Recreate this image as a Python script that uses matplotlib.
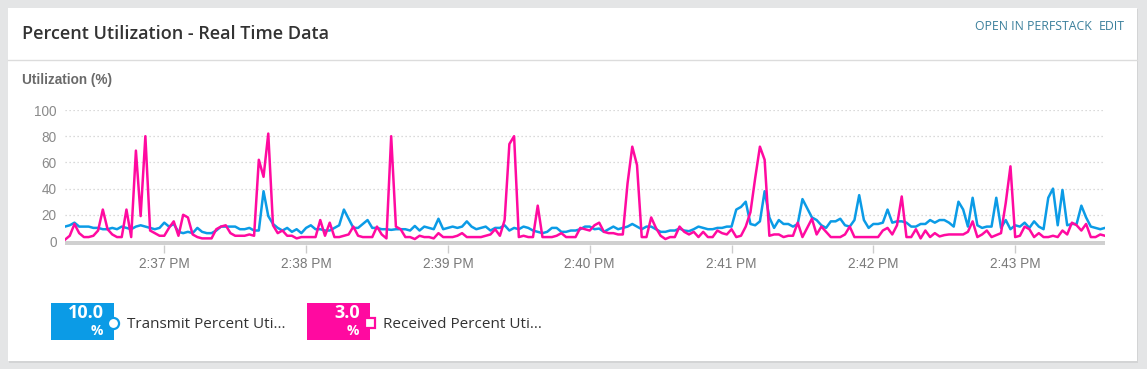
import matplotlib
matplotlib.use('Agg')
import matplotlib.pyplot as plt
import numpy as np
from matplotlib.patches import Rectangle
from matplotlib.lines import Line2D

# ---------------- data ----------------
start_time = '2024-01-01T14:36:18'
step_seconds = 2

transmit = [
    11, 12, 14, 11, 11, 11, 10, 10, 9, 9, 10, 9, 11, 10, 9, 11, 12, 11, 10, 9,
    10, 14, 11, 13, 7, 6, 7, 6, 10, 7, 6, 6, 8, 11, 11, 11, 11, 9, 9, 10,
    8, 8, 38, 19, 13, 10, 8, 10, 7, 9, 6, 10, 12, 9, 9, 8, 8, 10, 12, 24,
    17, 10, 10, 13, 16, 10, 10, 9, 9, 8.5, 9, 9, 9, 8, 11.5, 8, 11, 10, 9, 17,
    9, 10, 11, 10, 11, 15, 11, 9, 10, 11, 8, 10, 10, 12, 8, 10, 9, 11, 10, 8,
    7, 6, 7, 10, 10, 7, 7, 8, 8, 9, 11, 11, 9, 9.5, 7, 9, 11, 9, 10, 11,
    13, 11, 9, 11, 11, 9, 7, 7, 8, 8, 9.5, 8, 7.5, 9, 11, 10, 9, 9, 10, 10,
    11, 11, 24, 26, 30, 13, 12, 15, 38, 18, 10, 16, 13, 13, 11, 13, 32, 25, 18, 16,
    12, 10, 15, 15, 17, 12, 11, 16, 35, 16, 10, 13, 13, 14, 24, 14, 15, 15, 14, 11,
    11, 13, 13, 16, 14, 16, 16, 14, 11, 30, 24, 11, 33, 12, 10, 11, 11, 33, 10, 16,
    9, 12, 11, 14, 10, 15, 11, 9, 33, 40, 12, 39, 12, 13, 13, 27, 18, 11, 10, 9,
    10,
]

received = [
    1, 4, 13, 6, 3, 3, 4, 8, 24, 9, 5, 3, 3, 24, 3, 69, 19, 80, 8, 6,
    4, 4, 10, 15, 4, 20, 18, 5, 3, 2, 2, 2, 9, 11, 12, 6, 4, 4, 4, 5,
    4, 62, 49, 82, 12, 6, 8, 4, 4, 2, 3, 3, 3, 3, 16, 4, 14, 3, 3, 4,
    5, 11, 4, 3, 3, 3, 11, 5, 2, 80, 11, 9, 3, 3, 1.5, 4, 3, 3, 2, 6,
    3, 3, 3, 4, 6, 3, 3, 3, 3, 4, 5, 9, 4, 16, 74, 80, 3, 4, 3, 3,
    27, 3, 3, 3, 4, 6, 3, 3, 3, 10, 9, 8, 12, 14, 7, 6, 6, 5, 5, 44,
    72, 58, 3, 3, 18, 10, 4, 1.5, 3, 3, 11, 7, 5, 7, 3, 7, 3, 3, 8, 6,
    5, 9, 3, 4, 11, 22, 48, 72, 62, 4, 5, 5, 3, 4, 4, 14, 3, 10, 17, 5,
    11, 7, 3, 3, 3, 5, 11, 3, 3, 3, 3, 3, 3, 8, 10, 5, 12, 34, 3, 3,
    9, 2, 8, 3, 6, 3.5, 4.5, 5, 5, 5, 5, 7, 15, 3, 5, 8, 3, 4.5, 6, 29,
    57, 3, 4, 11, 9, 3, 6, 3, 3, 4, 3, 8, 5, 14, 12, 8, 13, 3, 3, 5,
    4,
]

y_ticks = [0, 20, 40, 60, 80, 100]
x_tick_times = ['14:37', '14:38', '14:39', '14:40', '14:41', '14:42', '14:43']
x_tick_labels = ['2:37 PM', '2:38 PM', '2:39 PM', '2:40 PM', '2:41 PM', '2:42 PM', '2:43 PM']

legend_values = ['10.0', '3.0']
legend_names = ['Transmit Percent Uti...', 'Received Percent Uti...']

title = 'Percent Utilization - Real Time Data'
y_label = 'Utilization (%)'

# ---------------- styling ----------------
BLUE = '#0b9be6'
PINK = '#ff0aa0'
W, H = 1147, 369

fig = plt.figure(figsize=(W / 100, H / 100), dpi=100)
fig.patch.set_facecolor('#e4e5e6')


def fx(x):
    return x / W


def fy(y):
    return 1 - y / H


# card with shadow
fig.patches.append(Rectangle((fx(9), fy(363)), (1138 - 9) / W, (363 - 9) / H,
                             transform=fig.transFigure, facecolor='#d3d4d5',
                             edgecolor='none', zorder=-2))
fig.patches.append(Rectangle((fx(8), fy(361)), (1137 - 8) / W, (361 - 8) / H,
                             transform=fig.transFigure, facecolor='white',
                             edgecolor='none', zorder=-1))
fig.add_artist(Line2D([fx(8), fx(1137)], [fy(59.5), fy(59.5)],
                      transform=fig.transFigure, color='#dcdcdc', lw=1))

fig.text(fx(22), fy(34), title, fontsize=13, fontweight='semibold',
         family='Open Sans', color='#333333', va='center', ha='left')
fig.text(fx(1092), fy(27), 'OPEN IN PERFSTACK', fontsize=8.8, family='Open Sans',
         color='#3a7f9b', va='center', ha='right')
fig.text(fx(1125), fy(27), 'EDIT', fontsize=8.8, family='Open Sans',
         color='#3a7f9b', va='center', ha='right')
fig.text(fx(22), fy(80), y_label, fontsize=9.8, fontweight='bold',
         family='Liberation Sans', color='#6a6a6a', va='center', ha='left')

# ---------------- chart ----------------
ax = fig.add_axes([fx(65), fy(245), (1105 - 65) / W, (245 - 110) / H])
ax.set_facecolor('none')
ax.set_zorder(1)

t0 = np.datetime64(start_time)
times = t0 + np.arange(len(transmit)) * np.timedelta64(step_seconds, 's')

ax.plot(times, transmit, color=BLUE, lw=1.8, zorder=3)
ax.plot(times, received, color=PINK, lw=1.8, zorder=4)

ax.set_xlim(times[0], times[-1])
ax.set_ylim(-3.05, 100)
ax.axhspan(-3.05, 0, facecolor='#d0d0d0', edgecolor='none', zorder=2)

for s in ax.spines.values():
    s.set_visible(False)

ax.set_yticks(y_ticks)
ax.set_yticklabels([str(v) for v in y_ticks])
ax.tick_params(axis='y', length=0, pad=6, labelsize=9.8, labelcolor='#8a8a8a')
for v in y_ticks[1:]:
    ax.axhline(v, color='#cfcfcf', lw=0.9, ls=(0, (1, 2.2)), zorder=1)

tick_pos = [np.datetime64('2024-01-01T' + t + ':00') for t in x_tick_times]
ax.set_xticks(tick_pos)
ax.set_xticklabels(x_tick_labels)
ax.tick_params(axis='x', length=6, width=1, color='#cccccc', pad=3,
               labelsize=9.8, labelcolor='#7a7a7a')
for lab in ax.get_xticklabels() + ax.get_yticklabels():
    lab.set_family('Liberation Sans')

# ---------------- legend ----------------
boxes = [(51, BLUE, 'circle'), (307, PINK, 'square')]
for (x0, col, mk), val, name in zip(boxes, legend_values, legend_names):
    fig.patches.append(Rectangle((fx(x0), fy(340)), 63 / W, 37 / H,
                                 transform=fig.transFigure, facecolor=col,
                                 edgecolor='none', zorder=2))
    fig.text(fx(x0 + 53), fy(313), val, fontsize=13, fontweight='bold',
             family='Open Sans', color='white', ha='right', va='center', zorder=3)
    fig.text(fx(x0 + 52), fy(331), '%', fontsize=10, fontweight='bold',
             family='Open Sans', color='white', ha='right', va='center', zorder=3)
    if mk == 'circle':
        fig.add_artist(Line2D([fx(x0 + 62)], [fy(323)], transform=fig.transFigure,
                              marker='o', markersize=8, markerfacecolor='white',
                              markeredgecolor=col, markeredgewidth=1.6, zorder=4))
    else:
        fig.add_artist(Line2D([fx(x0 + 63)], [fy(323)], transform=fig.transFigure,
                              marker='s', markersize=7, markerfacecolor='white',
                              markeredgecolor=col, markeredgewidth=1.6, zorder=4))
    fig.text(fx(x0 + 76), fy(324), name, fontsize=11, family='Open Sans',
             color='#333333', ha='left', va='center')

fig.savefig('out.png', dpi=100, facecolor=fig.get_facecolor())
